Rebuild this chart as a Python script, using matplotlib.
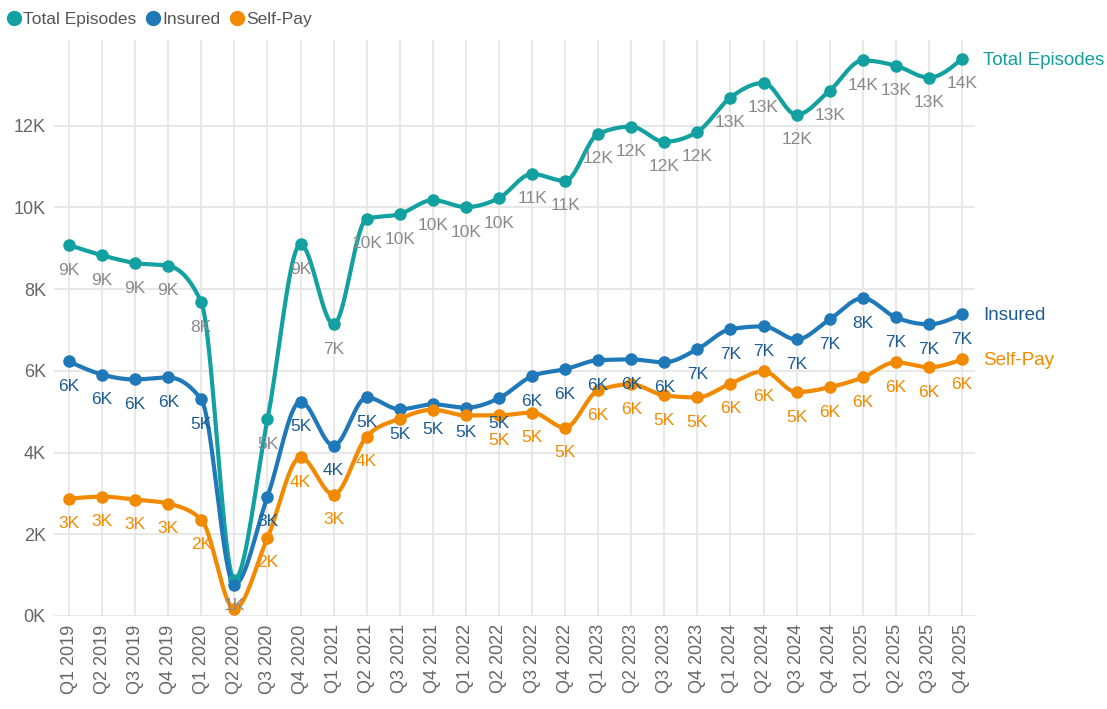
import numpy as np
import matplotlib
matplotlib.use("Agg")
import matplotlib.pyplot as plt
from matplotlib.lines import Line2D

plt.rcParams["font.family"] = ["Liberation Sans", "DejaVu Sans"]

# Quarter labels
quarters = [f"Q{q} {y}" for y in range(2019, 2026) for q in range(1, 5)]

# Episode counts per quarter
total_episodes = [9080, 8830, 8640, 8570, 7680, 880, 4810, 9100, 7140, 9720,
                  9840, 10180, 10010, 10230, 10820, 10650, 11800, 11980, 11610, 11850,
                  12690, 13050, 12270, 12860, 13600, 13470, 13180, 13640]
insured = [6230, 5910, 5790, 5840, 5300, 760, 2920, 5250, 4170, 5350,
           5060, 5180, 5100, 5330, 5870, 6040, 6260, 6280, 6210, 6530,
           7020, 7090, 6770, 7260, 7780, 7310, 7140, 7390]
self_pay = [2870, 2920, 2850, 2750, 2360, 170, 1910, 3880, 2970, 4390,
            4830, 5050, 4910, 4910, 4980, 4610, 5520, 5670, 5400, 5350,
            5690, 5990, 5480, 5600, 5840, 6210, 6090, 6280]

# labels the chart drops where they collide
series = [
    ("Total Episodes", total_episodes, "#12a0a0", "#8a8a8a", "#12a0a0", []),
    ("Insured", insured, "#1f78b8", "#1c5c92", "#1c5c92", [5]),
    ("Self-Pay", self_pay, "#f28a00", "#f28a00", "#f28a00", [5, 10, 11, 12]),
]


def monotone(x, y, n=20):
    # monotone cubic (like d3.curveMonotoneX), no overshoot at the points
    x = np.asarray(x, float)
    y = np.asarray(y, float)
    h = np.diff(x)
    s = np.diff(y) / h
    m = np.zeros_like(y)
    for i in range(1, len(y) - 1):
        p = (s[i - 1] * h[i] + s[i] * h[i - 1]) / (h[i - 1] + h[i])
        m[i] = (np.sign(s[i - 1]) + np.sign(s[i])) * min(abs(s[i - 1]), abs(s[i]), 0.5 * abs(p))
    m[0] = (3 * s[0] - m[1]) / 2
    m[-1] = (3 * s[-1] - m[-2]) / 2
    xs, ys = [], []
    for i in range(len(x) - 1):
        t = np.linspace(0, 1, n, endpoint=False)
        h00 = 2 * t**3 - 3 * t**2 + 1
        h10 = t**3 - 2 * t**2 + t
        h01 = -2 * t**3 + 3 * t**2
        h11 = t**3 - t**2
        xs.append(x[i] + t * h[i])
        ys.append(h00 * y[i] + h10 * h[i] * m[i] + h01 * y[i + 1] + h11 * h[i] * m[i + 1])
    xs.append([x[-1]])
    ys.append([y[-1]])
    return np.concatenate(xs), np.concatenate(ys)


fig = plt.figure(figsize=(11.07, 7.09), dpi=100)
ax = fig.add_axes([0.0489, 0.1312, 0.832, 0.8124])

x = np.arange(len(quarters))
for name, vals, col, lab_col, end_col, hidden in series:
    sx, sy = monotone(x, vals)
    ax.plot(sx, sy, color=col, lw=3.0, solid_capstyle="round", zorder=3)
    ax.plot(x, vals, "o", color=col, ms=8, zorder=4)
    for i, v in enumerate(vals):
        if i in hidden:
            continue
        ax.annotate(f"{round(v / 1000):.0f}K", (x[i], v), xytext=(0, -18),
                    textcoords="offset points", ha="center", va="center",
                    fontsize=12.5, color=lab_col, zorder=5)
    ax.annotate(name, (x[-1], vals[-1]), xytext=(15, -1), textcoords="offset points",
                ha="left", va="center", fontsize=13.5, color=end_col,
                annotation_clip=False)

ax.set_xlim(-0.45, 27.4)
ax.set_ylim(0, 14100)
ax.set_xticks(x)
ax.set_xticklabels(quarters, rotation=90)
ax.set_yticks(np.arange(0, 12001, 2000))
ax.set_yticklabels([f"{int(v / 1000)}K" for v in np.arange(0, 12001, 2000)])
ax.tick_params(axis="both", length=0, labelsize=13, colors="#666666", pad=6)
ax.grid(True, color="#e6e6e6", lw=1.3, zorder=0)
ax.set_axisbelow(True)
for s in ax.spines.values():
    s.set_visible(False)

handles = [Line2D([], [], marker="o", ls="", color=c, ms=10) for _, _, c, _, _, _ in series]
fig.legend(handles, [s[0] for s in series], loc="upper left", bbox_to_anchor=(-0.012, 1.005),
           ncol=3, frameon=False, fontsize=12.5, handletextpad=-0.1, columnspacing=0.3,
           handlelength=1.3, labelcolor="#555555")

fig.savefig("out.png", dpi=100)
